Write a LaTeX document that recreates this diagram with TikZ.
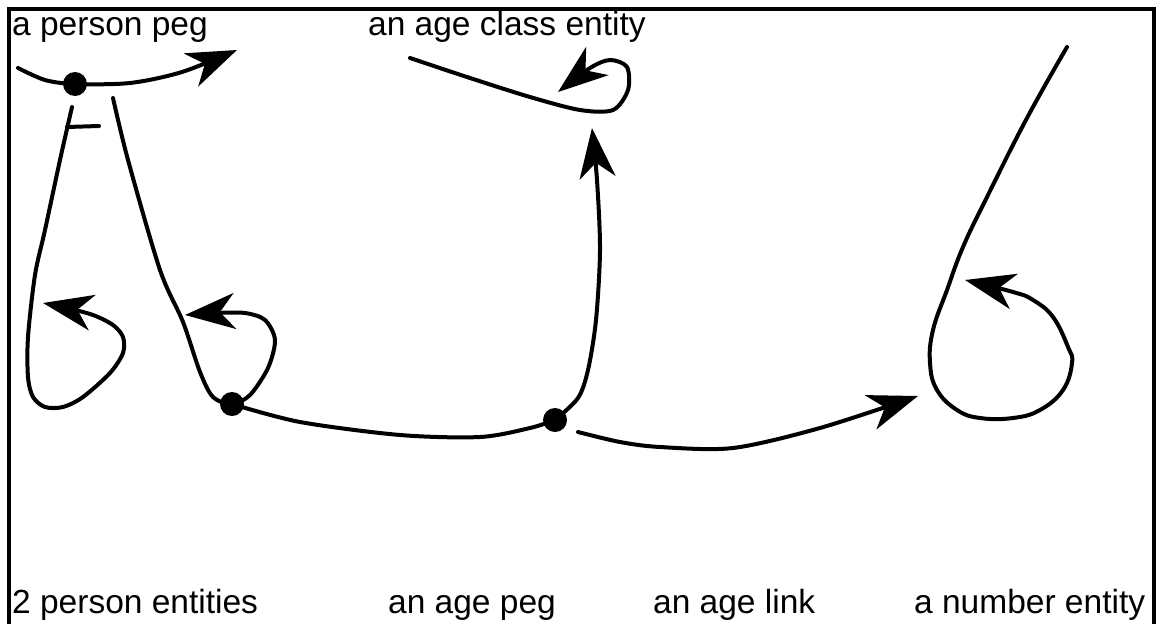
\documentclass[tikz,border=0pt]{standalone}
\usepackage{fontspec}
\setmainfont{Liberation Sans}
\usetikzlibrary{arrows.meta}
\begin{document}
\begin{tikzpicture}[x=1pt,y=-1pt,
  curve/.style={line width=4pt, line cap=round, line join=round},
  arr/.style={-{Stealth[length=50pt,width=36pt,inset=15pt]}},
  dot/.style={circle, fill=black, minimum size=24pt, inner sep=0pt},
  lab/.style={anchor=base west, inner sep=0pt, font=\fontsize{33.5}{38}\selectfont}]
\useasboundingbox (0,0) rectangle (1158,624);
\draw[line width=4pt] (9,624) -- (9,9) -- (1154,9) -- (1154,624);

% labels
\node[lab] (l1) at (12,35) {a person peg};
\node[lab] (l2) at (368,35) {an age class entity};
\node[lab] (l3) at (12,613) {2 person entities};
\node[lab] (l4) at (388,613) {an age peg};
\node[lab] (l5) at (653,613) {an age link};
\node[lab] (l6) at (914,613) {a number entity};

% dots
\node[dot] (d1) at (75,84) {};
\node[dot] (d2) at (232,404) {};
\node[dot] (d3) at (555,420) {};

% person peg arc
\draw[curve,arr] plot[smooth] coordinates {(18,68) (45,80) (d1.center) (130,83) (182,72) (237,50)};

% left line with loop
\draw[curve,arr] plot[smooth] coordinates {(72,107) (60,160) (45,230) (35,275) (28,337) (28,377) (33,397) (45,407) (63,407) (83,397) (110,373) (123,353) (123,337) (113,325) (93,315) (67,308) (43,303)};
\coordinate (t1) at (67,127);
\coordinate (t2) at (99,126);
\draw[curve] (t1) -- (t2);

% right line through dot 2 with loop
\draw[curve,arr] plot[smooth] coordinates {(113,98) (128,160) (160,270) (183,322) (200,372) (213,397) (d2.center) (250,395) (268,368) (275,340) (265,320) (245,313) (215,313) (185,315)};

% bottom curve dot2 -> dot3
\draw[curve] plot[smooth] coordinates {(d2.center) (300,422) (400,435) (480,437) (530,428) (d3.center)};

% dot3 up to age class
\draw[curve,arr] plot[smooth] coordinates {(d3.center) (578,398) (588,370) (596,320) (600,250) (597,180) (592,128)};

% age class entity
\draw[curve,arr] plot[smooth] coordinates {(410,58) (470,78) (530,97) (580,110) (613,110) (628,90) (627,67) (610,60) (590,68) (558,92)};

% age link
\coordinate (s6) at (578,432);
\draw[curve,arr] plot[smooth] coordinates {(s6) (620,442) (660,447) (733,448) (820,428) (918,396)};

% number entity
\draw[curve,arr] plot[smooth, tension=0.7] coordinates {(1067,47) (1027,118) (987,197) (963,247) (947,290) (933,330) (930,363) (937,390) (957,410) (980,418) (1013,418) (1040,410) (1063,390) (1072,363) (1068,347) (1053,317) (1033,300) (1013,292) (965,280)};
\end{tikzpicture}
\end{document}
